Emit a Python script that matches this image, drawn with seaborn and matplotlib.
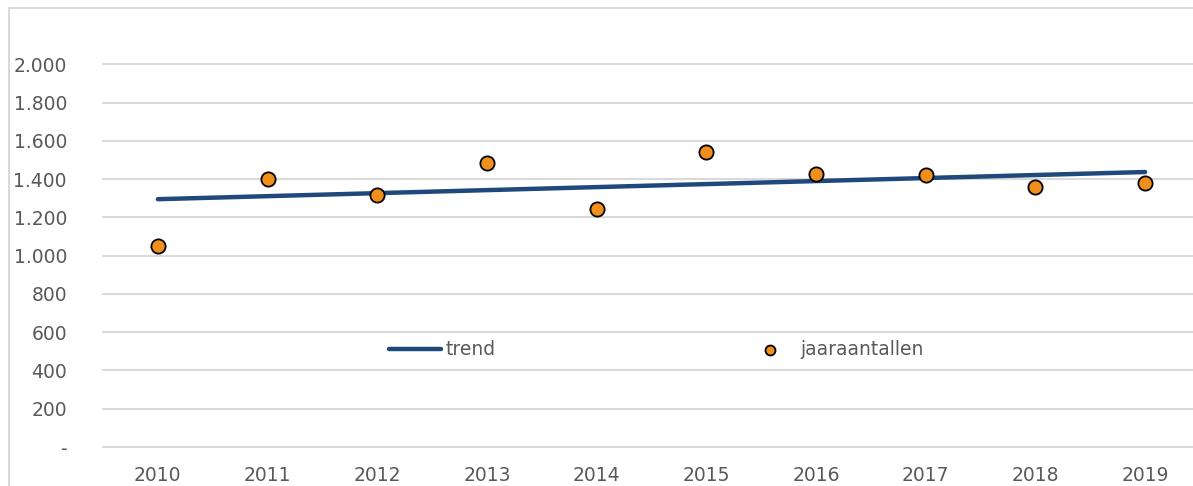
import matplotlib
matplotlib.use("Agg")
import matplotlib.pyplot as plt
from matplotlib.patches import Rectangle
import seaborn as sns
import pandas as pd

# --- data ---
jaren = [2010, 2011, 2012, 2013, 2014, 2015, 2016, 2017, 2018, 2019]
jaaraantallen = [1052, 1400, 1316, 1482, 1243, 1540, 1425, 1421, 1358, 1379]
trend_jaren = [2010, 2019]
trend_waarden = [1295, 1437]
y_ticks = [0, 200, 400, 600, 800, 1000, 1200, 1400, 1600, 1800, 2000]
y_labels = ["-", "200", "400", "600", "800", "1.000", "1.200", "1.400", "1.600", "1.800", "2.000"]

TEKST = "#595959"
RASTER = "#D9D9D9"
BLAUW = "#1F497D"
ORANJE = "#F18F1C"
FS = 13.5

sns.set_style("white")
plt.rcParams["font.family"] = ["DejaVu Sans"]

fig = plt.figure(figsize=(11.93, 4.86), dpi=100)
ax = fig.add_axes([103 / 1193, 1 - 447 / 486, 1097 / 1193, (447 - 26) / 486])

df_punten = pd.DataFrame({"jaar": jaren, "aantal": jaaraantallen})
df_trend = pd.DataFrame({"jaar": trend_jaren, "aantal": trend_waarden})

sns.lineplot(data=df_trend, x="jaar", y="aantal", ax=ax, color=BLAUW,
             linewidth=3.2, solid_capstyle="round", label="trend", zorder=3)
sns.scatterplot(data=df_punten, x="jaar", y="aantal", ax=ax, color=ORANJE,
                edgecolor="black", linewidth=1.3, s=105, label="jaaraantallen", zorder=4)

ax.set_xlim(2009.5, 2019.5)
ax.set_ylim(0, 2200)
ax.set_xticks(jaren)
ax.set_xticklabels([str(j) for j in jaren])
ax.set_yticks(y_ticks)
ax.set_yticklabels(y_labels)
ax.set_xlabel("")
ax.set_ylabel("")

ax.grid(axis="y", color=RASTER, linewidth=1.5)
ax.grid(axis="x", visible=False)
for gl in ax.get_ygridlines():
    gl.set_clip_on(False)
for s in ax.spines.values():
    s.set_visible(False)
ax.tick_params(axis="both", length=0, labelsize=FS, labelcolor=TEKST)
ax.tick_params(axis="y", pad=26)
ax.tick_params(axis="x", pad=14)

leg = ax.legend(loc="center left", bbox_to_anchor=(0.245, 0.231), ncol=2, frameon=False,
                fontsize=FS, handlelength=2.8, handletextpad=0.25, columnspacing=13.2,
                markerscale=0.7)
for t in leg.get_texts():
    t.set_color(TEKST)

# chart border (only left and top edges fall inside the picture)
fig.patches.append(Rectangle((9 / 1193, -0.5), 2.0, 1 - 8 / 486 + 0.5,
                             transform=fig.transFigure, fill=False,
                             edgecolor=RASTER, linewidth=1.5))

fig.savefig("out.png", dpi=100)
